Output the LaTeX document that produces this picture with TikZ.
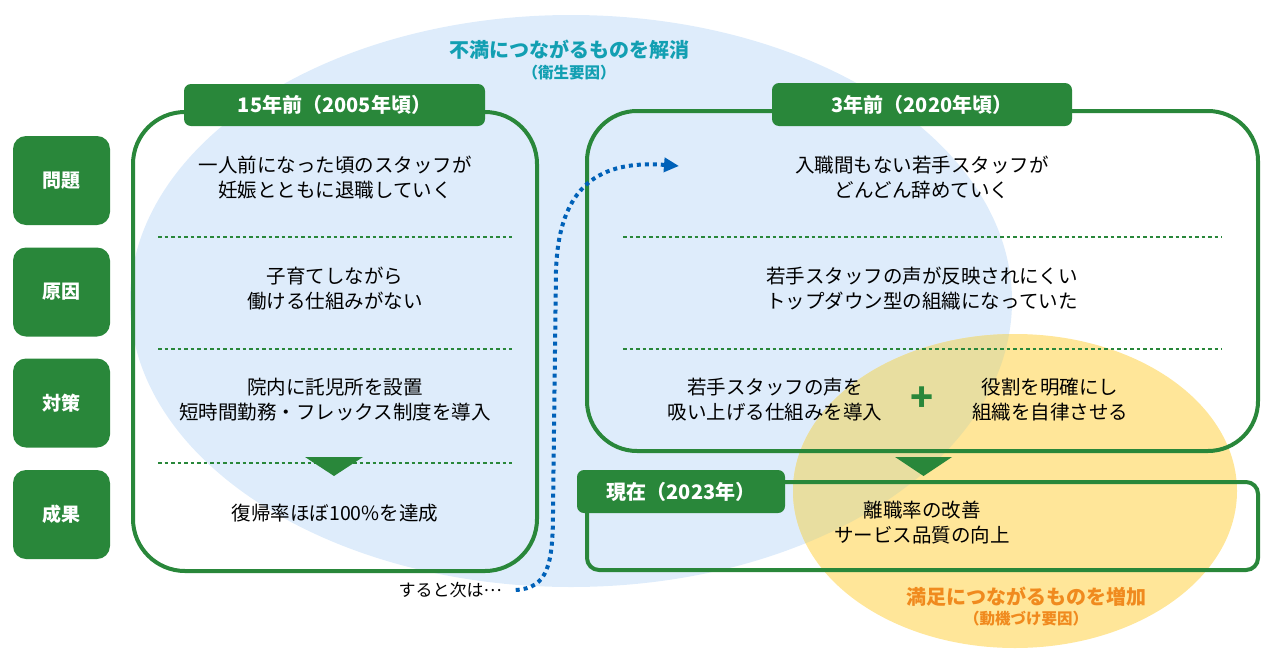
\documentclass[tikz,border=0pt]{standalone}
\usepackage{fontspec}
\setmainfont{Noto Sans CJK JP}
\usetikzlibrary{arrows.meta}

\definecolor{hdrgreen}{RGB}{41,135,58}
\definecolor{hygblue}{RGB}{222,236,251}
\definecolor{motyellow}{RGB}{255,230,153}
\definecolor{mixcolor}{RGB}{232,222,160}
\definecolor{hygtext}{RGB}{18,159,178}
\definecolor{mottext}{RGB}{240,138,30}
\definecolor{nextblue}{RGB}{0,97,184}

\tikzset{
  bigbox/.style={draw=hdrgreen, line width=4pt, rounded corners=52pt, inner sep=0pt},
  hdrbox/.style={fill=hdrgreen, rounded corners=7pt, text=white, inner sep=0pt,
    font=\bfseries\fontsize{20}{24}\selectfont},
  rowlabel/.style={fill=hdrgreen, rounded corners=13pt, minimum width=97pt,
    minimum height=89pt, text=white, font=\bfseries\fontsize{19}{24}\selectfont},
  bodytext/.style={align=center, inner sep=0pt, font=\fontsize{19.5}{25}\selectfont},
  sepline/.style={draw=hdrgreen, line width=1.2pt, dash pattern=on 3.5pt off 3pt},
  nextarrow/.style={draw=nextblue, line width=4pt, dash pattern=on 4pt off 4pt,
    -{Triangle[length=15pt, width=14pt]}},
}

\begin{document}
\begin{tikzpicture}[x=1pt,y=-1pt]
\useasboundingbox (0,0) rectangle (1273,664);

% factor areas
\fill[hygblue] (571,301) ellipse [x radius=441, y radius=286];
\fill[motyellow] (1015,491) ellipse [x radius=222, y radius=157];
\begin{scope}
  \clip (571,301) ellipse [x radius=441, y radius=286];
  \fill[mixcolor] (1015,491) ellipse [x radius=222, y radius=157];
\end{scope}

\node[inner sep=0pt, text=hygtext, font=\bfseries\fontsize{20}{24}\selectfont] (hygtitle) at (569,50) {不満につながるものを解消};
\node[inner sep=0pt, text=hygtext, font=\bfseries\fontsize{15.5}{18}\selectfont] (hygsub) at (569,73) {（衛生要因）};
\node[inner sep=0pt, text=mottext, font=\bfseries\fontsize{20}{24}\selectfont] (mottitle) at (1026,597) {満足につながるものを増加};
\node[inner sep=0pt, text=mottext, font=\bfseries\fontsize{15.5}{18}\selectfont] (motsub) at (1026,619) {（動機づけ要因）};

% row labels
\node[rowlabel] (problem) at (61.5,180.5) {問題};
\node[rowlabel] (cause) at (61.5,292) {原因};
\node[rowlabel] (measure) at (61.5,403) {対策};
\node[rowlabel] (result) at (61.5,514.5) {成果};

% 15 years ago
\node[bigbox, minimum width=404pt, minimum height=459pt] (past) at (335,341.5) {};
\node[hdrbox, minimum width=301pt, minimum height=42pt] (pasthdr) at (334.5,105) {15年前（2005年頃）};
\node[bodytext] (pastproblem) at (335,177.5) {一人前になった頃のスタッフが\\妊娠とともに退職していく};
\node[bodytext] (pastcause) at (335,289) {子育てしながら\\働ける仕組みがない};
\node[bodytext] (pastmeasure) at (335,400) {院内に託児所を設置\\短時間勤務・フレックス制度を導入};
\node[bodytext] (pastresult) at (335,513) {復帰率ほぼ100\%を達成};
\draw[sepline] (158,237) -- (512,237);
\draw[sepline] (158,349) -- (512,349);
\draw[sepline] (158,463) -- (512,463);
\fill[hdrgreen] (305,457) -- (363,457) -- (334,476) -- cycle;

% 3 years ago
\node[bigbox, rounded corners=50pt, minimum width=671pt, minimum height=340pt] (recent) at (922.5,281) {};
\node[hdrbox, minimum width=300pt, minimum height=43pt] (recenthdr) at (922,104.5) {3年前（2020年頃）};
\node[bodytext] (recentproblem) at (922,178) {入職間もない若手スタッフが\\どんどん辞めていく};
\node[bodytext] (recentcause) at (922,289) {若手スタッフの声が反映されにくい\\トップダウン型の組織になっていた};
\node[bodytext] (recentmeasureA) at (775,400) {若手スタッフの声を\\吸い上げる仕組みを導入};
\node[bodytext] (recentmeasureB) at (1050,400) {役割を明確にし\\組織を自律させる};
\node[inner sep=0pt, text=hdrgreen, font=\bfseries\fontsize{38}{38}\selectfont] (plus) at (922,399) {+};
\draw[sepline] (623,237) -- (1222,237);
\draw[sepline] (623,349) -- (1222,349);
\fill[hdrgreen] (895,457) -- (952,457) -- (923.5,476) -- cycle;

% now
\node[bigbox, rounded corners=12pt, minimum width=671pt, minimum height=88pt] (now) at (922.5,526) {};
\node[hdrbox, minimum width=208pt, minimum height=43pt] (nowhdr) at (681,491.5) {現在（2023年）};
\node[bodytext] (nowresult) at (922,523) {離職率の改善\\サービス品質の向上};

% and next...
\node[inner sep=0pt, font=\fontsize{17}{20}\selectfont] (next) at (450,590) {すると次は\raisebox{5pt}{…}};
\coordinate (nexttarget) at (679,166);
\draw[nextarrow] ([xshift=14pt]next.east) .. controls (548,588) and (553,565) .. (553,510)
  -- (556,270) .. controls (559,185) and (600,160) .. (nexttarget);
\end{tikzpicture}
\end{document}
